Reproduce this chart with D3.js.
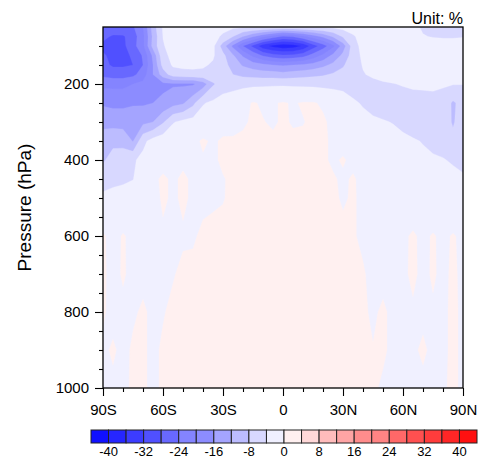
<!DOCTYPE html>
<html>
<head>
<meta charset="utf-8">
<script src="https://cdn.jsdelivr.net/npm/d3@7"></script>
<style>
  body { margin: 0; background: #ffffff; }
  svg { display: block; }
  text { font-family: "Liberation Sans", Arial, Helvetica, sans-serif; fill: #000; }
</style>
</head>
<body>
<svg id="chart" width="500" height="464"></svg>
<script>
// Latitude of each grid column (degrees, south negative)
const lats = [-90, -85, -80, -75, -70, -65, -60, -55, -50, -45, -40, -35, -30, -25, -20, -15, -10, -5,
              0, 5, 10, 15, 20, 25, 30, 35, 40, 45, 50, 55, 60, 65, 70, 75, 80, 85, 90];

// Pressure of each grid row (hPa)
const levels = [50, 75, 100, 125, 150, 175, 200, 250, 300, 350, 400, 450, 500, 600, 700, 800, 900, 1000];

// Zonal-mean change (%), one row per pressure level, columns follow `lats`
const pctChange = [
  /*   50 */ [-25,-25.5,-25,-24.5,-20,-10,-3.5,-2,-1.8,-1.8, -2,-2.5,-3,-3.2,-3.4,-3.5,-3.6,-3.7,-3.8,-3.7, -3.6,-3.5,-3.3,-3,-2.6,-2.2,-1.8,-1.5,-1.5,-1.5, -1.8,-3,-4.5,-5.5,-6,-6,-5.5],
  /*   75 */ [-27,-28.5,-28.5,-26,-21,-11,-3.9,-2.2,-2,-2, -2.2,-3,-4.5,-8,-12,-15.5,-19,-22,-24.5,-23.5, -21,-18,-15,-11.5,-7.5,-4.5,-2.5,-1.8,-1.5,-1.5, -1.8,-2.8,-3.8,-4.2,-4.4,-4.4,-4.2],
  /*  100 */ [-29,-30.5,-29,-25.5,-21,-10.5,-4.3,-2.5,-2.2,-2.2, -2.5,-3,-10,-17,-24,-29,-34.5,-37,-38.5,-38, -35.5,-30,-26,-21,-14,-6,-2.5,-1.8,-1.5,-1.5, -1.5,-1.8,-2,-2.2,-2.2,-2.2,-2.2],
  /*  125 */ [-27.5,-29,-29,-27.5,-23.5,-15,-5,-3,-2.8,-2.8, -3,-3.5,-7,-11.5,-16.5,-21,-24.5,-26.5,-27.5,-27, -25.5,-22.5,-19,-15,-11,-6,-3.2,-2.5,-2,-2, -2,-2.2,-2.5,-2.5,-2.5,-2.5,-2.5],
  /*  150 */ [-27,-28.5,-28.5,-28,-24,-16,-6.5,-3.5,-3.2,-3.2, -3.5,-4.5,-6.5,-9.5,-12.5,-14,-15,-16,-16.5,-16, -15.5,-14.5,-13,-11,-8.5,-5.5,-3.8,-3,-2.5,-2.5, -2.5,-2.5,-2.5,-2.5,-2.5,-2.5,-2.5],
  /*  175 */ [-25,-26,-26,-25,-22,-16,-10,-6,-5.2,-5, -5,-5.5,-6.5,-8,-9,-9.5,-10,-10,-10.5,-10, -9.5,-9,-8.5,-7.5,-6.5,-5,-4.2,-3.5,-3.2,-3, -3,-2.8,-2.8,-2.8,-2.8,-2.8,-2.6],
  /*  200 */ [-21,-21,-21,-20,-19,-18,-17,-16.5,-16.5,-16.5, -14,-8.5,-6,-5.5,-5,-4.8,-4.6,-4.5,-4.5,-4.6, -4.7,-4.8,-5,-5.2,-5.5,-5.5,-5.2,-4.8,-4.3,-4.1, -3.8,-3.6,-3.5,-3.5,-3.6,-3.8,-3.9],
  /*  250 */ [-16.5,-17,-17,-16.5,-16.5,-16,-15,-13.5,-12.5,-9, -4.3,-3.2,-2.2,-1.5,-0.8,0.2,-0.3,-0.2,0.2,-0.2, 0.2,0.2,-0.3,-0.8,-1.6,-3.5,-4.3,-5,-5.3,-5.5, -5.3,-5,-5,-4.8,-5.5,-8.6,-6.5],
  /*  300 */ [-13.5,-13.5,-13.5,-13.3,-13,-12,-8.5,-4.3,-3,-2.5, -2,-1.5,-1,-0.6,-0.3,0.3,0.1,-0.3,0.3,-0.2, -0.1,0.4,0.3,-0.5,-1.5,-2.5,-3,-3.5,-3.8,-4.1, -4.6,-5,-5.3,-5.5,-6,-8.4,-6],
  /*  350 */ [-9.5,-9,-9.5,-12.2,-5,-2.5,-1.5,-1,-0.8,-0.6, 0.3,-0.3,0.3,0.2,0.4,0.4,0.3,0.4,0.5,0.4, 0.4,0.3,0.3,-0.3,-0.8,-1.5,-2,-2.7,-3,-3.2, -3.5,-3.8,-4.1,-4.4,-4.7,-7,-5.5],
  /*  400 */ [-8.5,-6.5,-5.5,-4.5,-3,-1.5,-0.8,-0.5,-0.4,-0.3, -0.2,-0.3,0.3,0.3,0.4,0.5,0.5,0.5,0.6,0.5, 0.5,0.4,0.3,-0.3,0.2,-0.5,-1,-1.5,-2,-2.5, -3,-3.3,-3.6,-3.8,-3.9,-4.2,-4.8],
  /*  450 */ [-5,-4.8,-4.6,-4.1,-2,-0.4,0.3,-0.3,0.3,-0.3, -0.3,-0.2,-0.1,0.3,0.4,0.5,0.5,0.6,0.6,0.6, 0.5,0.5,0.4,0.2,-0.3,0.2,-0.5,-0.8,-1.2,-1.6, -2,-2.4,-2.6,-2.8,-3.2,-3.5,-3.6],
  /*  500 */ [-3.5,-3,-2.6,-2.2,-1.6,-0.8,0.3,-0.3,0.3,-0.3, -0.4,-0.3,-0.1,0.4,0.5,0.6,0.6,0.6,0.6,0.6, 0.6,0.6,0.5,0.3,-0.2,0.2,-0.4,-0.6,-0.9,-1.2, -1.6,-1.8,-2,-2.2,-2.4,-2.6,-3],
  /*  600 */ [0.3,-0.8,0.2,-0.6,-0.5,-0.4,-0.3,-0.3,-0.2,-0.2, 0.3,0.5,0.5,0.6,0.6,0.6,0.6,0.6,0.6,0.6, 0.6,0.6,0.5,0.5,0.4,0.1,-0.2,-0.4,-0.5,-0.6, -0.4,0.3,-0.5,0.2,-0.5,0.2,-0.5],
  /*  700 */ [0.3,-0.6,0.2,-0.5,-0.4,-0.3,-0.3,-0.1,0.3,0.4, 0.5,0.5,0.6,0.6,0.6,0.6,0.6,0.6,0.6,0.6, 0.6,0.6,0.6,0.5,0.5,0.4,0.1,-0.3,-0.4,-0.4, -0.3,0.3,-0.4,0.2,-0.4,0.3,-0.4],
  /*  800 */ [0.2,-0.5,-0.4,-0.2,0.2,-0.3,-0.1,0.3,0.4,0.4, 0.5,0.5,0.6,0.6,0.6,0.6,0.6,0.6,0.6,0.6, 0.6,0.6,0.6,0.5,0.5,0.4,0.2,-0.2,0.2,-0.3, -0.3,-0.2,-0.3,-0.2,-0.3,0.3,-0.3],
  /*  900 */ [-0.3,0.2,-0.4,0.2,0.2,-0.3,0.2,0.3,0.4,0.4, 0.5,0.5,0.6,0.6,0.6,0.6,0.6,0.6,0.6,0.6, 0.6,0.6,0.6,0.5,0.5,0.4,0.3,0.05,0.2,-0.3, -0.3,-0.2,0.2,-0.3,-0.3,0.3,-0.3],
  /* 1000 */ [-0.3,-0.3,-0.3,0.2,0.2,-0.3,0.2,0.3,0.4,0.4, 0.5,0.5,0.5,0.6,0.6,0.6,0.6,0.6,0.6,0.6, 0.6,0.6,0.6,0.5,0.5,0.4,0.3,0.2,-0.2,-0.3, -0.3,-0.2,-0.3,-0.3,-0.2,0.3,-0.3]
];

// Contour levels (%) and the fill used below/between/above them
const cnLevels = [-40, -36, -32, -28, -24, -20, -16, -12, -8, -4, 0, 4, 8, 12, 16, 20, 24, 28, 32, 36, 40];
const cnColors = ["#1010ff", "#2626ff", "#3c3cff", "#5050ff", "#6868ff", "#8484ff", "#8c8cff", "#a4a4ff",
                  "#bcbcff", "#d8d8ff", "#f0f0ff", "#fff0f0", "#ffd8d8", "#ffbcbc", "#ffa4a4", "#ff8c8c",
                  "#ff8484", "#ff6868", "#ff5050", "#ff3c3c", "#ff2626", "#ff1010"];

// Axis ticks and labels
const xMajor = [-90, -60, -30, 0, 30, 60, 90];
const xLabels = ["90S", "60S", "30S", "0", "30N", "60N", "90N"];
const xMinor = [-80, -70, -50, -40, -20, -10, 10, 20, 40, 50, 70, 80];
const yMajor = [200, 400, 600, 800, 1000];
const yMinor = [100, 150, 250, 300, 350, 450, 500, 550, 650, 700, 750, 850, 900, 950];
const cbarLabels = [-40, -32, -24, -16, -8, 0, 8, 16, 24, 32, 40];

const svg = d3.select("#chart");
const plot = { left: 103, right: 463, top: 27, bottom: 388 };

const x = d3.scaleLinear().domain([-90, 90]).range([plot.left, plot.right]);
const y = d3.scaleLinear().domain([50, 1000]).range([plot.top, plot.bottom]);

// grid index -> coordinate (pressure levels are unevenly spaced)
const latAt = d3.scaleLinear().domain([0, lats.length - 1]).range([lats[0], lats[lats.length - 1]]);
const presAt = d3.scaleLinear().domain(levels.map((_, i) => i)).range(levels);

const projection = d3.geoTransform({
  point(px, py) {
    this.stream.point(x(latAt(px - 0.5)), y(presAt(py - 0.5)));
  }
});
const path = d3.geoPath(projection);

svg.append("clipPath").attr("id", "plot-clip")
  .append("rect")
  .attr("x", plot.left).attr("y", plot.top)
  .attr("width", plot.right - plot.left).attr("height", plot.bottom - plot.top);

const gridValues = pctChange.flat();
const bands = d3.contours()
  .size([lats.length, levels.length])
  .thresholds([-1e6].concat(cnLevels))
  (gridValues);

svg.append("g").attr("clip-path", "url(#plot-clip)")
  .selectAll("path")
  .data(bands)
  .join("path")
  .attr("d", path)
  .attr("fill", (d, i) => cnColors[i])
  .attr("stroke", (d, i) => cnColors[i])
  .attr("stroke-width", 0.3);

// Frame
svg.append("rect")
  .attr("x", plot.left).attr("y", plot.top)
  .attr("width", plot.right - plot.left).attr("height", plot.bottom - plot.top)
  .attr("fill", "none").attr("stroke", "#000").attr("stroke-width", 1.3);

// Bottom axis
const xAxis = svg.append("g").attr("transform", `translate(0,${plot.bottom})`);
xAxis.call(d3.axisBottom(x).tickValues(xMajor).tickSize(8).tickSizeOuter(0).tickPadding(8)
  .tickFormat((d, i) => xLabels[i]));
xAxis.append("g").call(d3.axisBottom(x).tickValues(xMinor).tickSize(4).tickSizeOuter(0).tickFormat(""));
xAxis.selectAll(".domain").remove();
xAxis.selectAll("line").attr("stroke", "#000").attr("stroke-width", 1.1);
xAxis.selectAll("text").style("font-size", "15px")
  .style("font-family", '"Liberation Sans", Arial, sans-serif');

// Left axis
const yAxis = svg.append("g").attr("transform", `translate(${plot.left},0)`);
yAxis.call(d3.axisLeft(y).tickValues(yMajor).tickSize(8).tickSizeOuter(0).tickPadding(6)
  .tickFormat(d => String(d)));
yAxis.append("g").call(d3.axisLeft(y).tickValues(yMinor).tickSize(4).tickSizeOuter(0).tickFormat(""));
yAxis.selectAll(".domain").remove();
yAxis.selectAll("line").attr("stroke", "#000").attr("stroke-width", 1.1);
yAxis.selectAll("text").style("font-size", "15px")
  .style("font-family", '"Liberation Sans", Arial, sans-serif');

// Axis title
svg.append("text")
  .attr("transform", `translate(31,${(plot.top + plot.bottom) / 2}) rotate(-90)`)
  .attr("text-anchor", "middle")
  .style("font-size", "19px")
  .text("Pressure (hPa)");

// Unit note
svg.append("text")
  .attr("x", plot.right).attr("y", 24)
  .attr("text-anchor", "end")
  .style("font-size", "16px")
  .text("Unit: %");

// Colour bar
const cb = { left: 91, right: 477, top: 430, height: 13 };
const cbx = d3.scaleLinear().domain([-44, 44]).range([cb.left, cb.right]);
const boxEdges = [-44].concat(cnLevels);
const cbar = svg.append("g");
cbar.selectAll("rect")
  .data(cnColors)
  .join("rect")
  .attr("x", (d, i) => cbx(boxEdges[i]))
  .attr("y", cb.top)
  .attr("width", (d, i) => cbx(boxEdges[i] + 4) - cbx(boxEdges[i]))
  .attr("height", cb.height)
  .attr("fill", d => d)
  .attr("stroke", "#222")
  .attr("stroke-width", 1);
cbar.selectAll("text")
  .data(cbarLabels)
  .join("text")
  .attr("x", d => cbx(d))
  .attr("y", 456)
  .attr("text-anchor", "middle")
  .style("font-size", "13px")
  .text(d => d);
</script>
</body>
</html>
